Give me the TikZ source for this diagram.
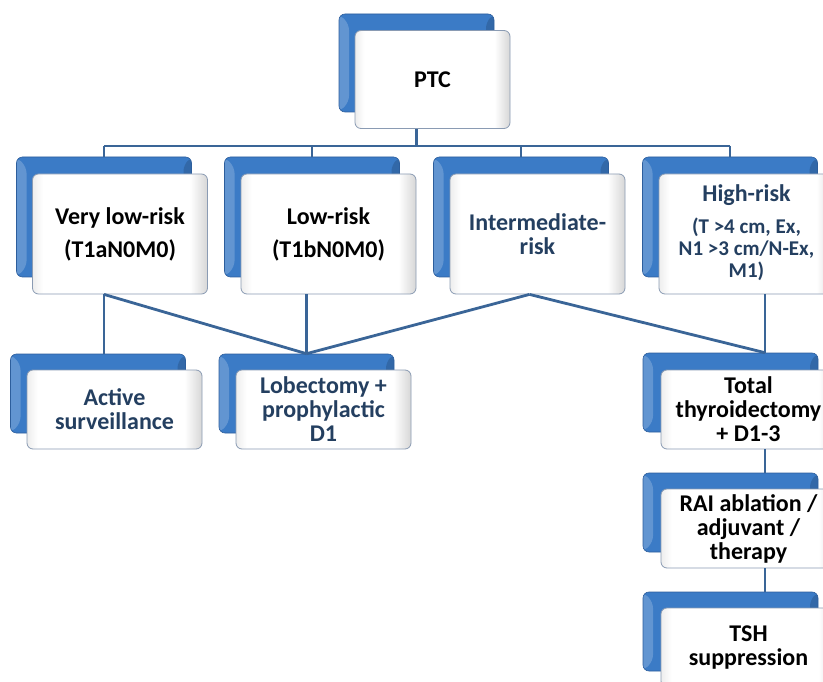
\documentclass[tikz,border=0pt]{standalone}
\usepackage{fontspec}
\setmainfont{Carlito}
\usetikzlibrary{calc}

\definecolor{backblue}{HTML}{3B7BC6}
\definecolor{backedge}{HTML}{2D5E9C}
\definecolor{frontedge}{HTML}{8A9BB3}
\definecolor{linkblue}{HTML}{3A6597}
\definecolor{navy}{HTML}{243F60}

\pgfdeclarehorizontalshading{frontshade}{100bp}{color(0bp)=(gray!14); color(25bp)=(gray!14); color(28bp)=(white); color(70bp)=(white); color(75bp)=(gray!32); color(100bp)=(gray!32)}

\newcommand{\stagelines}[1]{{\fontsize{21}{22}\selectfont\begin{tabular}[t]{@{}c@{}}#1\end{tabular}}}

\tikzset{
    backbox/.style={rounded corners=6pt, fill=backblue, draw=backedge, line width=0.6pt,
        path picture={
            \fill[white, opacity=0.2] (path picture bounding box.north west)
                -- ([xshift=10pt,yshift=-10pt]path picture bounding box.north west)
                -- ([xshift=10pt,yshift=10pt]path picture bounding box.south west)
                -- (path picture bounding box.south west) -- cycle;
            \fill[black, opacity=0.15] (path picture bounding box.north east)
                -- ([xshift=-8pt,yshift=-8pt]path picture bounding box.north east)
                -- ([xshift=-8pt,yshift=8pt]path picture bounding box.south east)
                -- (path picture bounding box.south east) -- cycle;
        }},
    frontbox/.style={rounded corners=6pt, shading=frontshade, draw=frontedge, line width=0.8pt,
        align=center, inner sep=2pt,
        font=\bfseries\fontsize{24}{24}\selectfont},
    link/.style={draw=linkblue, line width=2.8pt},
}

\begin{document}
\begin{tikzpicture}[x=1pt, y=-1pt]
    \useasboundingbox (0,0) rectangle (823,682);
    \clip (0,0) rectangle (823,682);

    \begin{scope}[
            level one/.style={minimum width=155pt, minimum height=98pt},
            level two/.style={minimum width=175pt, minimum height=120pt},
            level three/.style={minimum width=175pt, minimum height=79pt}
        ]

        % PTC
        \node[backbox, level one] (ptcB) at (416.5,63) {};
        \node[frontbox, level one] (ptc) at (432.5,79.5) {PTC};

        % risk groups
        \node[backbox, level two] (vlowB) at (104,217) {};
        \node[frontbox, level two] (vlow) at (120,234) {Very low-risk\\[9pt](T1aN0M0)};
        \node[backbox, level two] (lowB) at (312,217) {};
        \node[frontbox, level two] (low) at (328.5,234) {Low-risk\\[9pt](T1bN0M0)};
        \node[backbox, level two] (intB) at (521,217) {};
        \node[frontbox, level two, text=navy] (interm) at (537.5,234) {Intermediate-\\risk};
        \node[backbox, level two] (highB) at (730,217) {};
        \node[frontbox, level two, text=navy] (high) at (746.5,234)
            {High-risk\\[8pt]\stagelines{(T >4 cm, Ex,\\N1 >3 cm/N-Ex,\\M1)}};

        % treatment
        \node[backbox, level three] (actB) at (98,393.5) {};
        \node[frontbox, level three, text=navy] (act) at (114.5,409.5) {Active\\surveillance};
        \node[backbox, level three] (lobB) at (306.5,393.5) {};
        \node[frontbox, level three, text=navy] (lob) at (323.5,409.5) {Lobectomy +\\prophylactic\\D1};
        \node[backbox, level three] (totB) at (730.5,392.5) {};
        \node[frontbox, level three] (tot) at (748.5,409.5) {Total\\thyroidectomy\\+ D1-3};
        \node[backbox, level three] (raiB) at (730.5,512.5) {};
        \node[frontbox, level three] (rai) at (748.5,528.5) {RAI ablation /\\adjuvant /\\therapy};
        \node[backbox, level three] (tshB) at (730.5,631.5) {};
        \node[frontbox, level three] (tsh) at (748.5,647.5) {TSH\\suppression};
    \end{scope}

    % bus under PTC
    \coordinate (bus) at (0,146);
    \draw[link] (ptcB |- ptc.south) -- (ptcB |- bus);
    \draw[link] (vlowB |- bus) -- (highB |- bus);
    \foreach \b in {vlowB,lowB,intB,highB}
        \draw[link] (\b |- bus) -- (\b.north);

    % risk to treatment
    \draw[link] (vlowB |- vlow.south) -- (vlowB |- actB.north);
    \draw[link] (vlowB |- vlow.south) -- (lobB.north);
    \draw[link] (lobB |- low.south) -- (lobB.north);
    \draw[link] ([xshift=-8pt]interm.south) -- (lobB.north);
    \draw[link] ([xshift=-8pt]interm.south) -- ([xshift=34.5pt]totB.north);
    \draw[link] ([xshift=18.5pt]high.south) -- ([xshift=34.5pt]totB.north);
    \draw[link] ([xshift=16.5pt]tot.south) -- ([xshift=34.5pt]raiB.north);
    \draw[link] ([xshift=16.5pt]rai.south) -- ([xshift=34.5pt]tshB.north);
\end{tikzpicture}
\end{document}
